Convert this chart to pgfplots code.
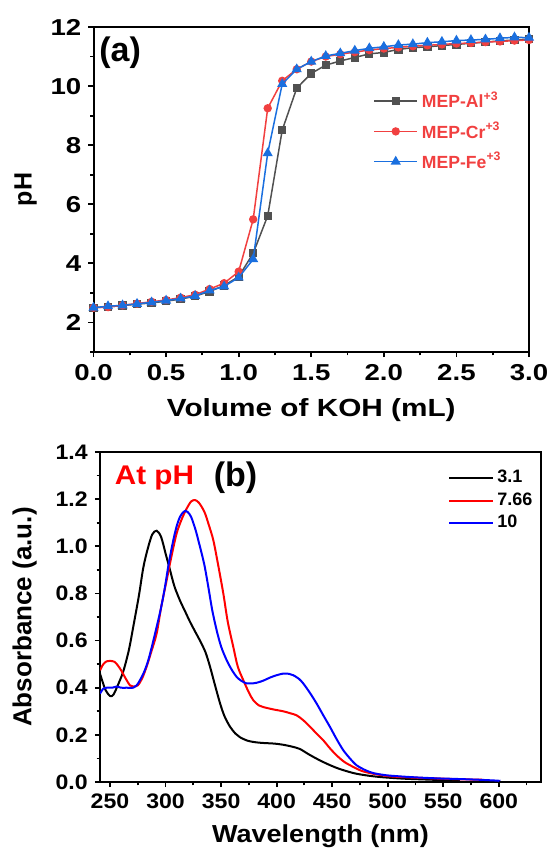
\documentclass[border=0pt]{standalone}
\usepackage{pgfplots}
\pgfplotsset{compat=1.18}
\usepackage{fontspec}
\setmainfont{Liberation Sans}
\newfontfamily\fonta{Liberation Sans}[FakeStretch=1.2]
\newfontfamily\fontb{Liberation Sans}[FakeStretch=1.1]
\definecolor{ogray}{HTML}{515151}
\definecolor{ored}{HTML}{F14040}
\definecolor{oblue}{HTML}{1A6FDF}

\pgfplotsset{
  panel/.style={
    scale only axis, anchor=south west,
    axis line style={line width=1pt},
    tick align=outside, xtick pos=bottom, ytick pos=left,
    major tick length=2.6pt, minor tick length=1.7pt,
    tick style={black, line width=0.9pt},
    /pgf/number format/assume math mode=true,
    clip mode=individual,
    legend cell align=left,
    legend image code/.code={\draw[mark repeat=2,mark phase=2] plot coordinates {(0pt,0pt)(10.75pt,0pt)(21.5pt,0pt)};},
  }
}

\begin{document}
\begin{tikzpicture}
\path[use as bounding box] (0,0) rectangle (274pt,-425pt);

% (a) titration curves
\begin{axis}[panel,
    at={(46.75pt,-176pt)}, width=217.75pt, height=162.5pt,
    xmin=0, xmax=3, ymin=1, ymax=12,
    xtick={0,0.5,...,3}, minor xtick={0.25,0.75,...,2.75},
    ytick={2,4,...,12}, minor ytick={1,3,...,11},
    xticklabel style={font=\fonta\bfseries\fontsize{11.5}{13}\selectfont, /pgf/number format/.cd, fixed, fixed zerofill, precision=1},
    yticklabel style={font=\fonta\bfseries\fontsize{11.5}{13}\selectfont},
    xlabel={Volume of KOH (mL)},
    ylabel={pH},
    xlabel style={font=\fonta\bfseries\fontsize{12.4}{14}\selectfont, at={(axis description cs:0.5,-0.18)}, anchor=center},
    ylabel style={font=\bfseries\fontsize{12.5}{14}\selectfont, at={(axis description cs:-0.156,0.5)}, anchor=center},
    legend style={draw=none, fill=none, at={(0.642,0.815)}, anchor=north west, inner sep=0pt, row sep=1.5pt,
        font=\bfseries\fontsize{8.8}{10}\selectfont},
]
\addplot[color=ogray, line width=0.75pt, mark=square*, mark size=1.7pt] coordinates {
(0,2.50)(0.1,2.53)(0.2,2.57)(0.3,2.62)(0.4,2.66)(0.5,2.72)(0.6,2.79)(0.7,2.89)(0.8,3.05)(0.9,3.25)
(1.0,3.55)(1.1,4.34)(1.2,5.61)(1.3,8.51)(1.4,9.93)(1.5,10.43)(1.6,10.71)(1.7,10.85)(1.8,10.97)(1.9,11.09)
(2.0,11.14)(2.1,11.24)(2.2,11.30)(2.3,11.33)(2.4,11.37)(2.5,11.41)(2.6,11.45)(2.7,11.49)(2.8,11.53)(2.9,11.56)(3.0,11.59)
};
\addlegendentry{\textcolor{ored}{MEP-Al\textsuperscript{+3}}}
\addplot[color=ored, line width=0.75pt, mark=*, mark size=1.7pt] coordinates {
(0,2.50)(0.1,2.52)(0.2,2.58)(0.3,2.64)(0.4,2.70)(0.5,2.76)(0.6,2.84)(0.7,2.94)(0.8,3.13)(0.9,3.33)
(1.0,3.72)(1.1,5.49)(1.2,9.25)(1.3,10.18)(1.4,10.57)(1.5,10.83)(1.6,11.00)(1.7,11.08)(1.8,11.15)(1.9,11.22)
(2.0,11.27)(2.1,11.31)(2.2,11.35)(2.3,11.38)(2.4,11.41)(2.5,11.44)(2.6,11.46)(2.7,11.49)(2.8,11.51)(2.9,11.54)(3.0,11.56)
};
\addlegendentry{\textcolor{ored}{MEP-Cr\textsuperscript{+3}}}
\addplot[color=oblue, line width=0.75pt, mark=triangle*, mark size=2.2pt] coordinates {
(0,2.50)(0.1,2.55)(0.2,2.58)(0.3,2.63)(0.4,2.68)(0.5,2.74)(0.6,2.81)(0.7,2.90)(0.8,3.08)(0.9,3.22)
(1.0,3.52)(1.1,4.14)(1.2,7.73)(1.3,10.07)(1.4,10.57)(1.5,10.83)(1.6,11.02)(1.7,11.11)(1.8,11.20)(1.9,11.28)
(2.0,11.33)(2.1,11.39)(2.2,11.42)(2.3,11.47)(2.4,11.50)(2.5,11.54)(2.6,11.56)(2.7,11.58)(2.8,11.62)(2.9,11.65)(3.0,11.64)
};
\addlegendentry{\textcolor{ored}{MEP-Fe\textsuperscript{+3}}}
\node[font=\bfseries\fontsize{17}{19}\selectfont, anchor=center] at (axis cs:0.183,11.14) {(a)};
\end{axis}

% (b) UV-Vis spectra
\begin{axis}[panel,
    at={(50pt,-391pt)}, width=220.5pt, height=165pt,
    xmin=241, xmax=638, ymin=0, ymax=1.4,
    xtick={250,300,...,600}, minor xtick={275,325,...,625},
    ytick={0,0.2,...,1.4}, minor ytick={0.1,0.3,...,1.3},
    xticklabel style={font=\fontb\bfseries\fontsize{10.5}{12}\selectfont},
    yticklabel style={font=\fontb\bfseries\fontsize{10.5}{12}\selectfont, /pgf/number format/.cd, fixed, fixed zerofill, precision=1},
    xlabel={Wavelength (nm)},
    ylabel={Absorbance (a.u.)},
    xlabel style={font=\fontb\bfseries\fontsize{12.3}{14}\selectfont, at={(axis description cs:0.5,-0.164)}, anchor=center},
    ylabel style={font=\bfseries\fontsize{13}{15}\selectfont, at={(axis description cs:-0.171,0.5)}, anchor=center},
    legend style={draw=none, fill=none, at={(0.789,0.958)}, anchor=north west, inner sep=0pt, row sep=-0.5pt,
        font=\bfseries\fontsize{9}{10}\selectfont},
]
\addplot[black, line width=1pt, smooth] coordinates {
(241,0.46)(243,0.43)(246,0.39)(250,0.365)(253,0.37)(257,0.41)(262,0.47)(267,0.56)(271,0.66)(276,0.79)
(280,0.91)(284,0.99)(288,1.05)(292,1.066)(296,1.04)(300,0.97)(304,0.90)(308,0.83)(313,0.77)(318,0.72)
(322,0.68)(327,0.635)(331,0.60)(336,0.55)(340,0.49)(344,0.42)(349,0.335)(353,0.28)(358,0.235)(363,0.205)
(367,0.19)(374,0.175)(382,0.168)(390,0.165)(398,0.163)(406,0.158)(414,0.15)(421,0.14)(428,0.12)(436,0.099)
(445,0.078)(454,0.06)(463,0.046)(472,0.035)(484,0.026)(496,0.02)(515,0.014)(532,0.011)(550,0.008)(565,0.006)
};
\addlegendentry{3.1}
\addplot[red, line width=1pt, smooth] coordinates {
(241,0.474)(244,0.50)(247,0.512)(250,0.514)(254,0.51)(257,0.495)(260,0.474)(264,0.44)(268,0.41)(271,0.405)
(275,0.41)(279,0.44)(283,0.49)(287,0.55)(292,0.63)(296,0.74)(301,0.856)(305,0.95)(310,1.055)(315,1.12)
(319,1.16)(323,1.19)(326.5,1.196)(330,1.185)(335,1.146)(339,1.09)(343,1.026)(347,0.93)(352,0.80)(356,0.68)
(361,0.573)(365,0.49)(370,0.432)(375,0.38)(379,0.347)(384,0.325)(388,0.318)(397,0.308)(406,0.30)(412,0.292)
(418,0.283)(424,0.262)(430,0.235)(436,0.205)(442,0.177)(448,0.143)(454,0.113)(461,0.085)(469,0.064)(476,0.048)
(484,0.038)(493,0.03)(502,0.024)(517,0.02)(532,0.017)(550,0.014)(570,0.011)(585,0.01)
};
\addlegendentry{7.66}
\addplot[blue, line width=1pt, smooth] coordinates {
(241,0.375)(244,0.396)(247,0.40)(252,0.40)(256,0.405)(260,0.40)(265,0.40)(271,0.40)(274,0.41)(277,0.432)
(281,0.47)(284.5,0.517)(288,0.58)(292,0.658)(296,0.74)(299.5,0.828)(303,0.93)(307,1.026)(310,1.085)(313,1.125)
(316,1.145)(318,1.151)(320,1.145)(323,1.125)(327,1.07)(331,0.998)(335,0.92)(338.5,0.828)(342,0.73)(346,0.644)
(350,0.575)(355,0.517)(360,0.473)(364,0.446)(368,0.43)(373,0.418)(377,0.418)(382,0.421)(388,0.43)(394,0.443)
(400,0.453)(406,0.46)(411,0.459)(415,0.453)(420,0.438)(424,0.418)(430,0.378)(436,0.333)(442,0.283)(448,0.234)
(454,0.182)(460,0.135)(466,0.1)(472,0.071)(480,0.05)(487,0.038)(495,0.031)(502,0.027)(517,0.022)(532,0.018)
(547,0.015)(562,0.013)(580,0.01)(598,0.006)(600,0.005)
};
\addlegendentry{10}
\node[font=\fontb\bfseries\fontsize{13.5}{15}\selectfont, text=red, anchor=west] at (axis cs:248,1.29) {At pH};
\node[font=\bfseries\fontsize{17}{19}\selectfont, anchor=center] at (axis cs:363,1.29) {(b)};
\end{axis}
\end{tikzpicture}
\end{document}
